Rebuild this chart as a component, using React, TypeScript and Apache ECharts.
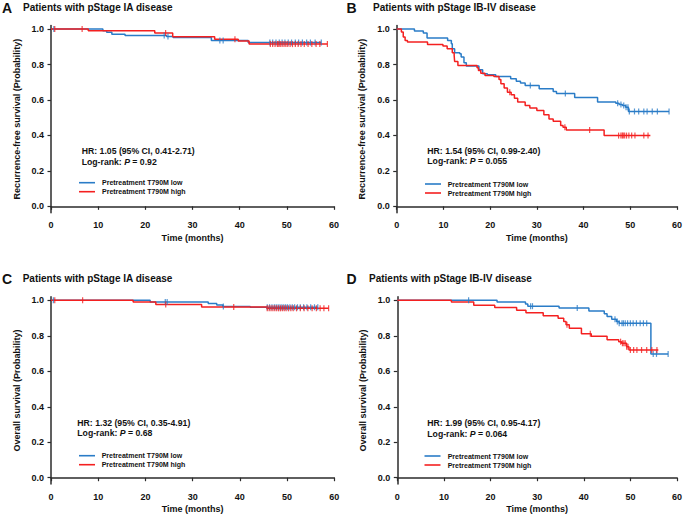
import React, { useEffect, useRef } from "react";
import * as echarts from "echarts";

// ---------- colours / fonts ----------
const BLUE = "#2a7cc7";
const RED = "#f42020";
const INK = "#111111";
const AXIS = "#2b2b2b";
const FONT = "'Liberation Sans', Arial, Helvetica, sans-serif";

// ---------- ticks ----------
const monthTicks = [0, 10, 20, 30, 40, 50, 60];
const probTicks = [0, 0.2, 0.4, 0.6, 0.8, 1.0];

// ---------- texts ----------
const panelLetters = ["A", "B", "C", "D"];
const panelTitles = [
  "Patients with pStage IA disease",
  "Patients with pStage IB-IV disease",
  "Patients with pStage IA disease",
  "Patients with pStage IB-IV disease",
];
const yAxisNames = [
  "Recurrence-free survival (Probability)",
  "Recurrence-free survival (Probability)",
  "Overall survival (Probability)",
  "Overall survival (Probability)",
];
const xAxisName = "Time (months)";
const hrTexts = [
  "HR: 1.05 (95% CI, 0.41-2.71)",
  "HR: 1.54 (95% CI, 0.99-2.40)",
  "HR: 1.32 (95% CI, 0.35-4.91)",
  "HR: 1.99 (95% CI, 0.95-4.17)",
];
const pValues = ["0.92", "0.055", "0.68", "0.064"];
const groupNames = ["Pretreatment T790M low", "Pretreatment T790M high"];

// ---------- data: [time (months), survival after event] ----------
// Panel A – RFS, pStage IA
const aLowEvents = [[11.0, 0.99], [11.8, 0.982], [12.9, 0.971], [15.7, 0.964], [24.5, 0.958], [25.9, 0.952], [34.0, 0.935], [41.8, 0.924]];
const aLowEnd = 57.3;
const aLowCensor = [0.6, 24.0, 24.8, 35.8, 36.5, 46.4, 47.0, 47.7, 48.4, 49.0, 49.6, 50.3, 51.0, 51.8, 52.5, 53.3, 54.2, 55.0, 56.0, 57.3];
const aHighEvents = [[7.9, 0.99], [22.0, 0.978], [25.8, 0.956], [34.7, 0.942], [39.7, 0.932], [42.0, 0.915]];
const aHighEnd = 58.6;
const aHighCensor = [0.8, 6.6, 24.3, 39.0, 46.5, 47.0, 47.5, 48.0, 48.3, 48.6, 49.0, 49.4, 49.8, 50.2, 50.7, 51.2, 51.8, 52.4, 53.0, 53.7, 54.5, 55.3, 56.2, 57.0, 58.6];

// Panel B – RFS, pStage IB-IV
const bLowEvents = [[3.8, 0.989], [5.7, 0.978], [6.5, 0.949], [10.9, 0.936], [11.7, 0.917], [11.9, 0.889], [12.4, 0.866], [13.5, 0.861], [13.8, 0.842], [14.4, 0.81], [14.9, 0.791], [17.6, 0.77], [18.4, 0.748], [19.4, 0.742], [21.2, 0.733], [24.4, 0.719], [25.6, 0.706], [26.5, 0.695], [27.5, 0.682], [30.5, 0.663], [33.5, 0.648], [34.2, 0.637], [38.1, 0.614], [43.0, 0.588], [46.9, 0.582], [47.6, 0.574], [48.3, 0.569], [49.0, 0.559], [49.6, 0.535]];
const bLowEnd = 58.3;
const bLowCensor = [28.6, 36.1, 47.3, 48.0, 48.6, 49.1, 49.5, 49.8, 50.9, 51.8, 52.9, 53.6, 54.7, 55.8, 58.3];
const bHighEvents = [[1.0, 0.983], [1.4, 0.955], [1.8, 0.936], [2.3, 0.927], [6.6, 0.913], [9.9, 0.904], [10.8, 0.889], [11.9, 0.866], [12.3, 0.851], [12.4, 0.817], [13.1, 0.795], [17.2, 0.782], [17.5, 0.766], [18.0, 0.751], [18.9, 0.738], [20.8, 0.733], [21.9, 0.716], [22.3, 0.691], [23.0, 0.667], [23.7, 0.644], [24.5, 0.629], [25.2, 0.61], [25.9, 0.588], [27.5, 0.569], [28.5, 0.554], [30.0, 0.54], [31.5, 0.516], [32.6, 0.493], [33.5, 0.48], [35.1, 0.456], [35.6, 0.446], [36.3, 0.431], [44.4, 0.399]];
const bHighEnd = 54.3;
const bHighCensor = [24.2, 36.0, 41.3, 47.5, 48.0, 48.3, 48.5, 48.8, 49.2, 49.7, 50.3, 51.0, 52.9, 53.8];

// Panel C – OS, pStage IA
const cLowEvents = [[21.0, 0.991], [33.3, 0.982], [35.1, 0.974], [36.4, 0.966], [42.2, 0.961]];
const cLowEnd = 56.5;
const cLowCensor = [0.5, 24.2, 24.6, 36.5, 45.8, 46.3, 46.8, 47.3, 47.7, 48.1, 48.5, 48.9, 49.3, 49.7, 50.1, 50.6, 51.1, 51.6, 52.2, 52.8, 53.5, 54.2, 55.0, 55.8, 56.5];
const cHighEvents = [[17.4, 0.99], [22.2, 0.977], [31.9, 0.963], [45.7, 0.955]];
const cHighEnd = 58.8;
const cHighCensor = [0.8, 6.7, 24.3, 38.7, 45.8, 46.2, 46.6, 47.0, 47.4, 47.8, 48.2, 48.6, 49.0, 49.4, 49.8, 50.3, 50.8, 51.3, 52.0, 52.8, 53.6, 54.4, 55.3, 56.2, 57.0, 57.8, 58.8];

// Panel D – OS, pStage IB-IV
const dLowEvents = [[21.4, 0.99], [27.5, 0.979], [28.0, 0.967], [34.7, 0.957], [41.1, 0.94], [44.4, 0.924], [45.0, 0.909], [46.0, 0.894], [47.0, 0.881], [47.6, 0.871], [54.4, 0.698]];
const dLowEnd = 58.1;
const dLowCensor = [15.3, 28.6, 29.0, 38.6, 46.7, 47.2, 47.6, 48.2, 48.5, 48.9, 49.4, 50.0, 50.6, 51.3, 52.1, 52.8, 53.5, 54.9, 55.6, 58.1];
const dHighEvents = [[11.6, 0.99], [16.4, 0.973], [20.9, 0.959], [25.6, 0.944], [27.6, 0.93], [31.3, 0.913], [34.5, 0.899], [35.7, 0.881], [36.2, 0.862], [36.9, 0.842], [39.5, 0.812], [41.6, 0.797], [45.0, 0.778], [47.5, 0.767], [48.1, 0.758], [49.2, 0.739], [49.7, 0.72]];
const dHighEnd = 56.0;
const dHighCensor = [36.4, 41.4, 47.9, 48.3, 48.6, 48.9, 49.2, 49.5, 50.0, 50.7, 51.4, 52.4, 53.5, 54.6, 55.7];

// ---------- helpers ----------
function stepData(events: number[][], end: number) {
  const d: number[][] = [[0, 1], ...events];
  d.push([end, events[events.length - 1][1]]);
  return d;
}
function survivalAt(events: number[][], t: number) {
  let s = 1;
  for (const [et, es] of events) if (et <= t) s = es;
  return s;
}

const curves = [
  { low: [aLowEvents, aLowEnd, aLowCensor], high: [aHighEvents, aHighEnd, aHighCensor] },
  { low: [bLowEvents, bLowEnd, bLowCensor], high: [bHighEvents, bHighEnd, bHighCensor] },
  { low: [cLowEvents, cLowEnd, cLowCensor], high: [cHighEvents, cHighEnd, cHighCensor] },
  { low: [dLowEvents, dLowEnd, dLowCensor], high: [dHighEvents, dHighEnd, dHighCensor] },
] as any[];

// ---------- layout ----------
const grids = [
  { left: 51, top: 25.5, width: 283, height: 187.2 },
  { left: 396.7, top: 25.5, width: 284.3, height: 187.2 },
  { left: 51, top: 296.8, width: 283.3, height: 187.3 },
  { left: 397.3, top: 296.8, width: 281.7, height: 187.3 },
];
const letterPos = [[2, 8], [346.5, 8], [2, 278.5], [346.5, 278.5]];
const titlePos = [[23, 7.5], [373, 7.5], [22.7, 278.3], [369, 278.3]];
const hrPos = [[81.7, 151], [427.3, 150.7], [77.3, 422.7], [427.3, 423.3]];
const legendPos = [[79, 182.7, 102], [425, 184, 447.7], [79, 455.7, 101.7], [424.5, 456, 447.7]];

export default function App() {
  const ref = useRef<HTMLDivElement>(null);

  useEffect(() => {
    if (!ref.current) return;
    const chart = echarts.init(ref.current, undefined, { renderer: "svg" });

    const textBase = { fontFamily: FONT, fontWeight: "bold" as const, fill: INK };

    const xAxes = grids.map((_, i) => ({
      type: "value",
      gridIndex: i,
      min: 0,
      max: 60,
      interval: 10,
      name: xAxisName,
      nameLocation: "middle",
      nameGap: 20.5,
      nameTextStyle: { fontFamily: FONT, fontWeight: "bold", fontSize: 9, color: INK },
      axisLine: { show: true, lineStyle: { color: AXIS, width: 1.5 } },
      axisTick: { show: true, length: 3.5, lineStyle: { color: AXIS, width: 1.2 } },
      axisLabel: { margin: 8, fontFamily: FONT, fontWeight: "bold", fontSize: 9, color: INK },
      splitLine: { show: false },
    }));

    const yAxes = grids.map((_, i) => ({
      type: "value",
      gridIndex: i,
      min: -0.036,
      max: 1.02,
      name: yAxisNames[i],
      nameLocation: "middle",
      nameGap: 30,
      nameTextStyle: { fontFamily: FONT, fontWeight: "bold", fontSize: 9, color: INK },
      axisLine: { show: true, lineStyle: { color: AXIS, width: 1.5 } },
      axisTick: { show: true, length: 3.5, customValues: probTicks, lineStyle: { color: AXIS, width: 1.2 } },
      axisLabel: {
        margin: 7,
        customValues: probTicks,
        formatter: (v: number) => v.toFixed(1),
        fontFamily: FONT,
        fontWeight: "bold",
        fontSize: 9,
        color: INK,
      },
      splitLine: { show: false },
    }));

    const series: any[] = [];
    curves.forEach((c, i) => {
      const groups = [
        { d: c.low, color: BLUE, name: groupNames[0] },
        { d: c.high, color: RED, name: groupNames[1] },
      ];
      groups.forEach((g) => {
        const [events, end, censor] = g.d;
        series.push({
          type: "line",
          name: g.name,
          xAxisIndex: i,
          yAxisIndex: i,
          step: "end",
          showSymbol: false,
          symbol: "none",
          lineStyle: { color: g.color, width: 1.5 },
          itemStyle: { color: g.color },
          data: stepData(events, end),
          z: 3,
        });
        series.push({
          type: "scatter",
          name: g.name,
          xAxisIndex: i,
          yAxisIndex: i,
          symbol: "rect",
          symbolSize: [1.2, 6],
          itemStyle: { color: g.color },
          data: censor.map((t: number) => [t, survivalAt(events, t)]),
          z: 4,
        });
      });
    });

    const graphics: any[] = [];
    for (let i = 0; i < 4; i++) {
      graphics.push({
        type: "text",
        left: undefined,
        x: letterPos[i][0],
        y: letterPos[i][1],
        style: { ...textBase, text: panelLetters[i], fontSize: 14, textVerticalAlign: "middle", verticalAlign: "middle" },
      });
      graphics.push({
        type: "text",
        x: titlePos[i][0],
        y: titlePos[i][1],
        style: { ...textBase, text: panelTitles[i], fontSize: 10, verticalAlign: "middle" },
      });
      graphics.push({
        type: "text",
        x: hrPos[i][0],
        y: hrPos[i][1],
        style: { ...textBase, text: hrTexts[i], fontSize: 8.7, verticalAlign: "middle" },
      });
      const rn = { fontFamily: FONT, fontWeight: "bold", fontSize: 8.7, color: INK, fill: INK };
      graphics.push({
        type: "text",
        x: hrPos[i][0],
        y: hrPos[i][1] + 10.5,
        style: {
          ...textBase,
          fontSize: 8.7,
          verticalAlign: "middle",
          text: `{n|Log-rank: }{i|P}{n| = ${pValues[i]}}`,
          rich: { n: rn, i: { ...rn, fontStyle: "italic" } },
        },
      });
      const [lx, ly, tx] = legendPos[i];
      [BLUE, RED].forEach((col, k) => {
        const yy = ly + k * 9;
        graphics.push({
          type: "line",
          shape: { x1: lx, y1: yy, x2: lx + 16, y2: yy },
          style: { stroke: col, lineWidth: 1.6 },
        });
        graphics.push({
          type: "text",
          x: tx,
          y: yy,
          style: { ...textBase, text: groupNames[k], fontSize: 7, verticalAlign: "middle" },
        });
      });
    }

    chart.setOption({
      animation: false,
      backgroundColor: "#ffffff",
      grid: grids.map((g) => ({ ...g, containLabel: false })),
      xAxis: xAxes,
      yAxis: yAxes,
      series,
      graphic: graphics,
    });

    return () => chart.dispose();
  }, []);

  return (
    <div
      ref={ref}
      style={{ position: "absolute", left: 0, top: 0, width: 685, height: 515, background: "#fff" }}
    />
  );
}
